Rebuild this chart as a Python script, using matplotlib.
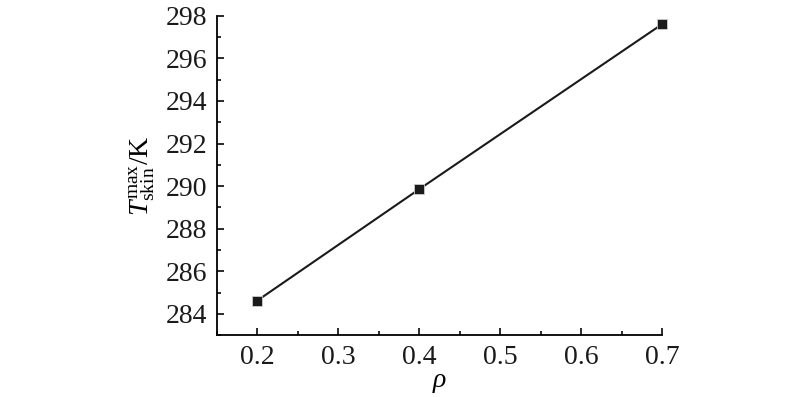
import numpy as np
import matplotlib
matplotlib.use('Agg')
import matplotlib.pyplot as plt
import matplotlib as mpl
from matplotlib.ticker import MultipleLocator

# data
rho = [0.2, 0.4, 0.7]
t_skin_max = [284.62, 289.86, 297.62]
xticks = [0.2, 0.3, 0.4, 0.5, 0.6, 0.7]
yticks = [284, 286, 288, 290, 292, 294, 296, 298]

# drawing style
mpl.rcParams['font.family'] = ['Liberation Serif', 'DejaVu Serif']
mpl.rcParams['mathtext.fontset'] = 'custom'
mpl.rcParams['mathtext.rm'] = 'Liberation Serif'
mpl.rcParams['mathtext.it'] = 'Liberation Serif:italic'
mpl.rcParams['font.size'] = 20
mpl.rcParams['axes.linewidth'] = 1.3
mpl.rcParams['xtick.major.size'] = 5
mpl.rcParams['xtick.minor.size'] = 3
mpl.rcParams['ytick.major.size'] = 5
mpl.rcParams['ytick.minor.size'] = 3
mpl.rcParams['xtick.major.width'] = 1.3
mpl.rcParams['xtick.minor.width'] = 1.3
mpl.rcParams['ytick.major.width'] = 1.3
mpl.rcParams['ytick.minor.width'] = 1.3

fig = plt.figure(figsize=(8, 3.97), dpi=100)
ax = fig.add_axes([0.271, 0.156, 0.557, 0.804])

ax.plot(rho, t_skin_max, color='#1a1a1a', lw=1.5, marker='s', ms=7,
        mfc='#1a1a1a', mec='#cccccc', mew=0.6, clip_on=False)

ax.set_xlim(0.15, 0.7)
ax.set_ylim(283, 298)
ax.set_xticks(xticks)
ax.set_xticklabels([f'{v:.1f}' for v in xticks])
ax.set_yticks(yticks)
ax.xaxis.set_minor_locator(MultipleLocator(0.05))
ax.yaxis.set_minor_locator(MultipleLocator(1))

ax.spines['top'].set_visible(False)
ax.spines['right'].set_visible(False)
ax.tick_params(which='both', direction='in', colors='#1a1a1a', pad=7)

ax.set_xlabel(r'$\rho$', labelpad=0)
ax.set_ylabel(r'$T_{\rm skin}^{\rm max}$/K', labelpad=6)

fig.savefig('out.png', dpi=100)
